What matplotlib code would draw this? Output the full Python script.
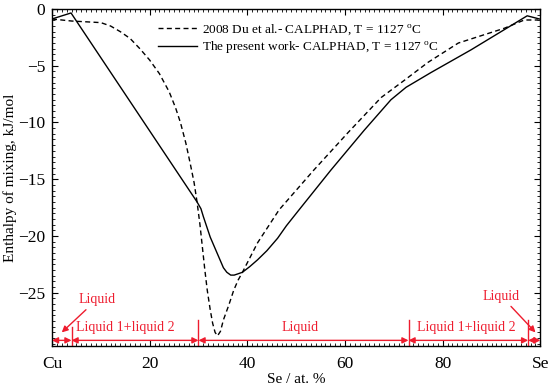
import numpy as np
import matplotlib
matplotlib.use('Agg')
from matplotlib import pyplot as plt
from matplotlib.ticker import MultipleLocator

plt.rcParams['font.family'] = ['Liberation Serif', 'DejaVu Serif']
plt.rcParams['mathtext.fontset'] = 'custom'
plt.rcParams['mathtext.rm'] = 'Liberation Serif'

# 2008 Du et al. - CALPHAD
du_x = [0, 4, 10, 12, 14, 16, 18, 20, 22, 24, 25.3, 26.3, 27.4, 28.3, 29.1, 29.7,
        30.3, 30.8, 31.3, 31.8, 32.4, 32.9, 33.4, 33.9, 34.5, 35.1, 36.2, 37.2,
        38.1, 39, 42.1, 46.5, 53.6, 60.6, 67.4, 72.1, 77, 83.2, 92.6, 96.7, 99.6]
du_y = [-0.88, -1.06, -1.2, -1.5, -2.0, -2.6, -3.5, -4.5, -5.7, -7.3, -8.7,
        -10.0, -11.8, -13.6, -15.3, -17.0, -19.0, -21.0, -23.0, -24.8, -26.5,
        -27.7, -28.5, -28.8, -28.4, -27.4, -26.1, -24.8, -23.9, -23.2, -20.6,
        -17.7, -14.2, -10.9, -7.8, -6.3, -4.7, -3.0, -1.7, -0.97, -0.97]

# The present work - CALPHAD
pw_x = [0, 3.9, 29.7, 30.5, 31.0, 31.7, 32.4, 33.2, 33.9, 34.5, 35.1, 35.8, 36.6,
        37.3, 38, 39, 40.5, 42.1, 44, 46.2, 48, 50.4, 57.1, 63.9, 69.4, 72.5,
        77.6, 85.8, 97.3, 99.8]
pw_y = [-0.88, -0.35, -17.0, -17.6, -18.3, -19.2, -20.1, -20.9, -21.6, -22.2,
        -22.8, -23.2, -23.45, -23.45, -23.35, -23.2, -22.7, -22.1, -21.3, -20.2,
        -19.1, -17.8, -14.2, -10.7, -8.0, -6.9, -5.6, -3.6, -0.6, -0.88]

# phase regions along the bottom
bounds = [0, 4, 30, 73, 97.5, 100]
region_labels = ['Liquid 1+liquid 2', 'Liquid', 'Liquid 1+liquid 2']
region_label_x = [15.0, 50.7, 84.8]

red = '#ee1c2e'

fig = plt.figure(figsize=(5.5, 3.91), dpi=100)
ax = fig.add_axes([0.0945, 0.115, 0.888, 0.862])

ax.plot(du_x, du_y, color='k', lw=1.0, linestyle=(0, (3.6, 2.4)),
        label='2008 Du et al.- CALPHAD, T = 1127 $^{\\rm o}$C')
ax.plot(pw_x, pw_y, color='k', lw=1.0,
        label='The present work- CALPHAD, T = 1127 $^{\\rm o}$C')

ax.set_xlim(0, 100)
ax.set_ylim(-29.7, 0)
ax.set_xticks([0, 20, 40, 60, 80, 100])
ax.set_xticklabels(['Cu', '20', '40', '60', '80', 'Se'])
ax.set_yticks([0, -5, -10, -15, -20, -25])
ax.set_yticklabels(['0', '\u22125', '\u221210', '\u221215', '\u221220', '\u221225'])
ax.xaxis.set_minor_locator(MultipleLocator(1))
ax.yaxis.set_minor_locator(MultipleLocator(0.5))
ax.tick_params(which='both', direction='in', top=True, right=True, labelsize=12.5)
ax.tick_params(which='major', length=4, width=0.8)
ax.tick_params(which='minor', length=2, width=0.6)
ax.tick_params(axis='x', which='major', pad=7)
ax.tick_params(axis='y', which='major', pad=5)
for s in ax.spines.values():
    s.set_linewidth(1.0)

ax.set_xlabel('Se / at. %', fontsize=11, labelpad=1)
ax.set_ylabel('Enthalpy of mixing, kJ/mol', fontsize=11, labelpad=1)

leg = ax.legend(loc='upper left', bbox_to_anchor=(0.2, 0.985), frameon=False,
                fontsize=9.5, handlelength=3.0, handletextpad=0.4,
                labelspacing=0.25, borderaxespad=0.2)

# red phase annotations
y_arrow = -29.2
for a, b in zip(bounds[:-1], bounds[1:]):
    ax.annotate('', xy=(b, y_arrow), xytext=(a, y_arrow),
                arrowprops=dict(arrowstyle='<|-|>', color=red, lw=1.0,
                                shrinkA=0, shrinkB=0, mutation_scale=9))
for xb in bounds[1:-1]:
    top = -28.0 if xb == 4 else -27.4
    ax.plot([xb, xb], [-29.7, top], color=red, lw=1.0)

for lab, xl in zip(region_labels, region_label_x):
    ax.text(xl, -28.05, lab, color=red, fontsize=10, ha='center', va='center')

ax.annotate('Liquid', xy=(2.0, -28.5), xytext=(9.2, -25.6), color=red,
            fontsize=10, ha='center', va='center',
            arrowprops=dict(arrowstyle='-|>', color=red, lw=1.0,
                            shrinkA=1, shrinkB=0, mutation_scale=9))
ax.annotate('Liquid', xy=(99.0, -28.5), xytext=(92.0, -25.3), color=red,
            fontsize=10, ha='center', va='center',
            arrowprops=dict(arrowstyle='-|>', color=red, lw=1.0,
                            shrinkA=1, shrinkB=0, mutation_scale=9))

plt.savefig('out.png', dpi=100)
plt.close()
